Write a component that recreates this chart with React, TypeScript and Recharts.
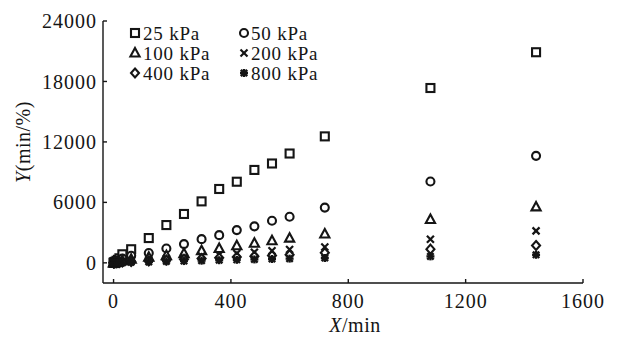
import { ScatterChart, Scatter, XAxis, YAxis } from "recharts";

// sampling times (min)
const times = [0, 1, 2, 5, 10, 15, 20, 30, 60, 120, 180, 240, 300, 360, 420, 480, 540, 600, 720, 1080, 1440];

// Y (min/%) for each consolidation pressure
const y25 = [0, 20, 40, 100, 200, 300, 450, 850, 1350, 2460, 3750, 4850, 6100, 7330, 8050, 9220, 9860, 10850, 12550, 17350, 20900];
const y50 = [0, 10, 20, 50, 100, 160, 220, 420, 700, 980, 1420, 1860, 2350, 2750, 3250, 3620, 4180, 4570, 5480, 8070, 10620];
const y100 = [0, 5, 10, 25, 50, 80, 110, 200, 350, 550, 720, 920, 1200, 1420, 1700, 1950, 2200, 2450, 2870, 4300, 5550];
const y200 = [0, 3, 6, 15, 30, 50, 70, 120, 200, 300, 420, 550, 680, 800, 920, 1050, 1200, 1330, 1580, 2350, 3170];
const y400 = [0, 2, 4, 10, 20, 30, 45, 80, 130, 200, 280, 360, 430, 500, 580, 650, 720, 800, 1000, 1360, 1720];
const y800 = [0, 1, 2, 5, 10, 15, 25, 40, 70, 100, 140, 180, 220, 260, 300, 340, 380, 420, 480, 640, 800];

const seriesNames = ["25 kPa", "50 kPa", "100 kPa", "200 kPa", "400 kPa", "800 kPa"];
const seriesValues = [y25, y50, y100, y200, y400, y800];
const markerKinds = ["square", "circle", "triangle", "cross", "diamond", "star"];

const xTicks = [0, 400, 800, 1200, 1600];
const yTicks = [0, 6000, 12000, 18000, 24000];

const INK = "#151515";
const FONT = "'Liberation Serif', 'Times New Roman', serif";

function Marker({ kind, cx, cy }: { kind: string; cx: number; cy: number }) {
  const sw = 2.1;
  switch (kind) {
    case "square":
      return <rect x={cx - 4} y={cy - 4} width={8} height={8} fill="#fff" stroke={INK} strokeWidth={sw} />;
    case "circle":
      return <circle cx={cx} cy={cy} r={4} fill="#fff" stroke={INK} strokeWidth={sw} />;
    case "triangle":
      return (
        <polygon
          points={`${cx},${cy - 5} ${cx + 4.6},${cy + 3.5} ${cx - 4.6},${cy + 3.5}`}
          fill="#fff"
          stroke={INK}
          strokeWidth={sw}
        />
      );
    case "cross":
      return (
        <g stroke={INK} strokeWidth={2.2}>
          <line x1={cx - 3.5} y1={cy - 3.5} x2={cx + 3.5} y2={cy + 3.5} />
          <line x1={cx - 3.5} y1={cy + 3.5} x2={cx + 3.5} y2={cy - 3.5} />
        </g>
      );
    case "diamond":
      return (
        <polygon
          points={`${cx},${cy - 4.5} ${cx + 4},${cy} ${cx},${cy + 4.5} ${cx - 4},${cy}`}
          fill="#fff"
          stroke={INK}
          strokeWidth={sw}
        />
      );
    default:
      return (
        <g stroke={INK} strokeWidth={2.4}>
          <line x1={cx - 4} y1={cy} x2={cx + 4} y2={cy} />
          <line x1={cx} y1={cy - 4} x2={cx} y2={cy + 4} />
          <line x1={cx - 3.2} y1={cy - 3.2} x2={cx + 3.2} y2={cy + 3.2} />
          <line x1={cx - 3.2} y1={cy + 3.2} x2={cx + 3.2} y2={cy - 3.2} />
        </g>
      );
  }
}

const series = seriesNames.map((name, i) => ({
  name,
  kind: markerKinds[i],
  data: times.map((t, j) => ({ x: t, y: seriesValues[i][j] })),
}));

const legendSlots = [
  { mx: 135, tx: 143, y: 33 },
  { mx: 244, tx: 251, y: 33 },
  { mx: 135, tx: 143, y: 53 },
  { mx: 244, tx: 251, y: 53 },
  { mx: 135, tx: 143, y: 73 },
  { mx: 244, tx: 251, y: 73 },
];

const tickStyle = { fontFamily: FONT, fontSize: 20, fill: INK, letterSpacing: 1 };

export default function App() {
  return (
    <div style={{ position: "absolute", left: 0, top: 0, width: 631, height: 341, background: "#fff" }}>
      <ScatterChart width={631} height={341} margin={{ top: 21, right: 48, left: 0, bottom: 0 }}>
        <XAxis
          type="number"
          dataKey="x"
          domain={[-36, 1600]}
          ticks={xTicks}
          height={58}
          tickSize={-4}
          tickMargin={15}
          tick={tickStyle}
          axisLine={{ stroke: INK, strokeWidth: 1.4 }}
          tickLine={{ stroke: INK, strokeWidth: 1.4 }}
          label={(props: any) => {
            const vb = props.viewBox;
            return (
              <text
                x={vb.x + vb.width / 2 + 12}
                y={vb.y + 49}
                textAnchor="middle"
                fontFamily={FONT}
                fontSize={20}
                letterSpacing={0.5}
                fill={INK}
              >
                <tspan fontStyle="italic">X</tspan>
                <tspan>/min</tspan>
              </text>
            );
          }}
        />
        <YAxis
          type="number"
          dataKey="y"
          domain={[-2000, 24000]}
          ticks={yTicks}
          width={103}
          tickSize={-4}
          tickMargin={10}
          tick={tickStyle}
          axisLine={{ stroke: INK, strokeWidth: 1.4 }}
          tickLine={{ stroke: INK, strokeWidth: 1.4 }}
          label={() => (
            <text
              x={23}
              y={142}
              transform="rotate(-90 23 142)"
              textAnchor="middle"
              dominantBaseline="central"
              fontFamily={FONT}
              fontSize={20}
              letterSpacing={0.5}
              fill={INK}
            >
              <tspan fontStyle="italic">Y</tspan>
              <tspan>(min/%)</tspan>
            </text>
          )}
        />
        {series.map((s) => (
          <Scatter
            key={s.name}
            name={s.name}
            data={s.data}
            isAnimationActive={false}
            shape={(p: any) => <Marker kind={s.kind} cx={p.cx} cy={p.cy} />}
          />
        ))}
      </ScatterChart>
      <svg width={631} height={341} style={{ position: "absolute", left: 0, top: 0, pointerEvents: "none" }}>
        {series.map((s, i) => (
          <g key={s.name}>
            <Marker kind={s.kind} cx={legendSlots[i].mx} cy={legendSlots[i].y} />
            <text
              x={legendSlots[i].tx}
              y={legendSlots[i].y}
              dominantBaseline="central"
              fontFamily={FONT}
              fontSize={19}
              letterSpacing={0.8}
              fill={INK}
            >
              {s.name}
            </text>
          </g>
        ))}
      </svg>
    </div>
  );
}
